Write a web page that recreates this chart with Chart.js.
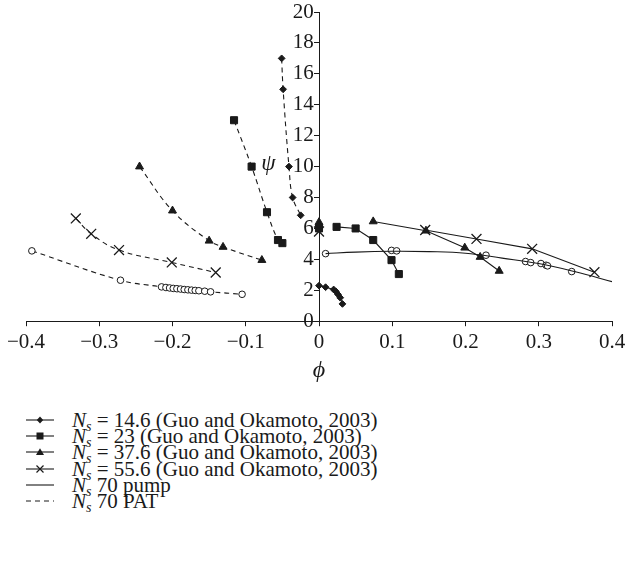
<!DOCTYPE html>
<html>
<head>
<meta charset="utf-8">
<script src="https://cdn.jsdelivr.net/npm/chart.js@4.4.1/dist/chart.umd.min.js"></script>
<style>
    body {margin: 0; background: #fff; font-family: "Liberation Serif", serif; color: #1a1a1a;}
    #wrap {position: relative; width: 625px; height: 561px;}
    #legend {position: absolute; left: 25px; top: 412px; font-size: 21px; line-height: 16.2px;}
    #legend .row {display: flex; align-items: center; height: 16.2px; white-space: nowrap;}
    #legend svg {width: 30px; height: 14px; margin-right: 17px; flex: none;}
    #legend sub {font-size: 14px; vertical-align: -4px; line-height: 0;}
</style>
</head>
<body>
<div id="wrap">
    <canvas id="chart" width="625" height="387"></canvas>
    <div id="legend"></div>
</div>
<script>
    // tick labels
    const xTickLabels = ['\u22120.4', '\u22120.3', '\u22120.2', '\u22120.1', '0', '0.1', '0.2', '0.3', '0.4'];
    const yTickLabels = ['0', '2', '4', '6', '8', '10', '12', '14', '16', '18', '20'];

    // Guo and Okamoto (2003) - turbine mode (PAT, dashed)
    const pat146Phi = [-0.051, -0.049, -0.041, -0.036, -0.025];
    const pat146Psi = [17.0, 15.0, 10.0, 8.0, 6.85];
    const pat23Phi = [-0.116, -0.092, -0.071, -0.056, -0.050];
    const pat23Psi = [13.0, 10.0, 7.05, 5.25, 5.05];
    const pat376Phi = [-0.245, -0.200, -0.150, -0.131, -0.078];
    const pat376Psi = [10.0, 7.15, 5.2, 4.8, 3.95];
    const pat556Phi = [-0.332, -0.311, -0.273, -0.201, -0.141];
    const pat556Psi = [6.65, 5.65, 4.6, 3.8, 3.15];

    // Guo and Okamoto (2003) - pump mode (solid)
    const pump146Phi = [0, 0.009, 0.020, 0.023, 0.026, 0.029, 0.032];
    const pump146Psi = [2.3, 2.2, 2.05, 1.93, 1.73, 1.52, 1.12];
    const pump23Phi = [0.024, 0.050, 0.074, 0.099, 0.109];
    const pump23Psi = [6.1, 6.0, 5.25, 3.95, 3.05];
    const pump376Phi = [0.074, 0.146, 0.199, 0.220, 0.246];
    const pump376Psi = [6.45, 5.85, 4.75, 4.15, 3.25];
    const pump556Phi = [0.145, 0.215, 0.291, 0.376];
    const pump556Psi = [5.9, 5.32, 4.68, 3.17];

    // shut-off points at phi = 0
    const shut146Psi = [6.2];
    const shut23Psi = [6.0];
    const shut376Psi = [6.4];
    const shut556Psi = [5.8];

    // Ns 70 pump (circles + trend line)
    const pump70Phi = [0.009, 0.099, 0.106, 0.228, 0.282, 0.289, 0.303, 0.310, 0.312, 0.345];
    const pump70Psi = [4.37, 4.58, 4.55, 4.27, 3.86, 3.79, 3.73, 3.62, 3.58, 3.21];
    const pump70TrendPhi = [0.009, 0.05, 0.1, 0.15, 0.2, 0.25, 0.3, 0.35, 0.4];
    const pump70TrendPsi = [4.37, 4.47, 4.52, 4.5, 4.4, 4.08, 3.73, 3.2, 2.56];

    // Ns 70 PAT (circles + dashed line)
    const pat70Phi = [-0.392, -0.271, -0.215, -0.209, -0.204, -0.199, -0.194, -0.189, -0.184, -0.179, -0.174, -0.169, -0.164, -0.156, -0.148, -0.105];
    const pat70Psi = [4.55, 2.65, 2.22, 2.18, 2.15, 2.12, 2.1, 2.08, 2.05, 2.03, 2.01, 1.99, 1.97, 1.94, 1.9, 1.74];

    const ink = '#1a1a1a';
    const pts = (xs, ys) => xs.map((x, i) => ({x: x, y: ys[i]}));
    const at0 = (ys) => ys.map(y => ({x: 0, y: y}));

    function series(data, style, radius, opts) {
        return Object.assign({
            data: data,
            showLine: true,
            borderColor: ink,
            backgroundColor: ink,
            borderWidth: 1.1,
            pointStyle: style,
            pointRadius: radius,
            pointBorderWidth: 1,
            pointHoverRadius: radius,
            tension: 0,
        }, opts || {});
    }

    const dash = {borderDash: [5, 4], tension: 0.4};

    const datasets = [
        series(pts(pat146Phi, pat146Psi), 'rectRot', 3.4, dash),
        series(pts(pat23Phi, pat23Psi), 'rect', 5, dash),
        series(pts(pat376Phi, pat376Psi), 'triangle', 4.6, dash),
        series(pts(pat556Phi, pat556Psi), 'crossRot', 7, Object.assign({pointBorderWidth: 1.3}, dash)),
        series(pts(pump146Phi, pump146Psi), 'rectRot', 3.4),
        series(pts(pump23Phi, pump23Psi), 'rect', 5),
        series(pts(pump376Phi, pump376Psi), 'triangle', 4.6),
        series(pts(pump556Phi, pump556Psi), 'crossRot', 7, {pointBorderWidth: 1.3}),
        series(at0(shut146Psi), 'rectRot', 3.4, {showLine: false}),
        series(at0(shut23Psi), 'rect', 5, {showLine: false}),
        series(at0(shut376Psi), 'triangle', 4.6, {showLine: false}),
        series(at0(shut556Psi), 'crossRot', 7, {showLine: false, pointBorderWidth: 1.3}),
        series(pts(pump70TrendPhi, pump70TrendPsi), 'circle', 0, {tension: 0.4}),
        series(pts(pump70Phi, pump70Psi), 'circle', 3.3, {showLine: false, backgroundColor: '#fff'}),
        series(pts(pat70Phi, pat70Psi), 'circle', 3.3, Object.assign({backgroundColor: '#fff'}, dash)),
    ];

    const psiLabel = {
        id: 'psiLabel',
        afterDatasetsDraw(chart) {
            const ctx = chart.ctx;
            ctx.save();
            ctx.font = 'italic 23px "Liberation Serif"';
            ctx.fillStyle = ink;
            ctx.textAlign = 'center';
            ctx.textBaseline = 'middle';
            ctx.fillText('\u03C8', chart.scales.x.getPixelForValue(-0.069), chart.scales.y.getPixelForValue(10.2));
            ctx.restore();
        }
    };

    new Chart(document.getElementById('chart'), {
        type: 'scatter',
        data: {datasets: datasets},
        plugins: [psiLabel],
        options: {
            responsive: false,
            animation: false,
            layout: {padding: {left: 26, right: 13, top: 12, bottom: 4}},
            plugins: {
                legend: {display: false},
                tooltip: {enabled: false},
            },
            scales: {
                x: {
                    type: 'linear',
                    min: -0.4,
                    max: 0.4,
                    // let the end labels run into the page margin like the original
                    afterFit: (s) => { s.paddingLeft = 0; s.paddingRight = 0; },
                    border: {color: ink, width: 1},
                    grid: {drawOnChartArea: false, tickLength: 5, color: ink},
                    ticks: {
                        stepSize: 0.1,
                        color: ink,
                        padding: 4,
                        maxRotation: 0,
                        font: {family: 'Liberation Serif', size: 21},
                        callback: (v, i) => xTickLabels[i],
                    },
                    title: {
                        display: true,
                        text: '\u03D5',
                        color: ink,
                        font: {family: 'Liberation Serif', size: 24, style: 'italic', lineHeight: 0.9},
                        padding: {top: 0, bottom: 2},
                    },
                },
                y: {
                    type: 'linear',
                    position: {x: 0},
                    min: 0,
                    max: 20,
                    afterFit: (s) => { s.paddingTop = 0; s.paddingBottom = 0; },
                    border: {color: ink, width: 1},
                    grid: {drawOnChartArea: false, tickLength: 5, color: ink},
                    ticks: {
                        stepSize: 2,
                        color: ink,
                        font: {family: 'Liberation Serif', size: 21},
                        // trailing space keeps the label clear of the axis line
                        callback: (v, i) => yTickLabels[i] + ' ',
                    },
                },
            },
        },
    });

    // legend
    const legendItems = [
        {mark: 'diamond', dash: false, text: ' = 14.6 (Guo and Okamoto, 2003)'},
        {mark: 'square', dash: false, text: ' = 23 (Guo and Okamoto, 2003)'},
        {mark: 'triangle', dash: false, text: ' = 37.6 (Guo and Okamoto, 2003)'},
        {mark: 'cross', dash: false, text: ' = 55.6 (Guo and Okamoto, 2003)'},
        {mark: null, dash: false, text: ' 70 pump'},
        {mark: null, dash: true, text: ' 70 PAT'},
    ];
    const marks = {
        diamond: '<path d="M15 3.6 L18.2 7 L15 10.4 L11.8 7 Z" fill="' + ink + '"/>',
        square: '<rect x="11.5" y="3.5" width="7" height="7" fill="' + ink + '"/>',
        triangle: '<path d="M15 3.3 L19 10 L11 10 Z" fill="' + ink + '"/>',
        cross: '<path d="M11.5 3.5 L18.5 10.5 M18.5 3.5 L11.5 10.5" stroke="' + ink + '" stroke-width="1.2"/>',
    };
    const legendEl = document.getElementById('legend');
    legendItems.forEach(item => {
        const line = '<line x1="1" y1="7" x2="29" y2="7" stroke="' + ink + '" stroke-width="1.1"' +
            (item.dash ? ' stroke-dasharray="5 4"' : '') + '/>';
        const row = document.createElement('div');
        row.className = 'row';
        row.innerHTML = '<svg viewBox="0 0 30 14">' + line + (item.mark ? marks[item.mark] : '') + '</svg>' +
            '<span><i>N</i><sub><i>s</i></sub>' + item.text + '</span>';
        legendEl.appendChild(row);
    });
</script>
</body>
</html>
